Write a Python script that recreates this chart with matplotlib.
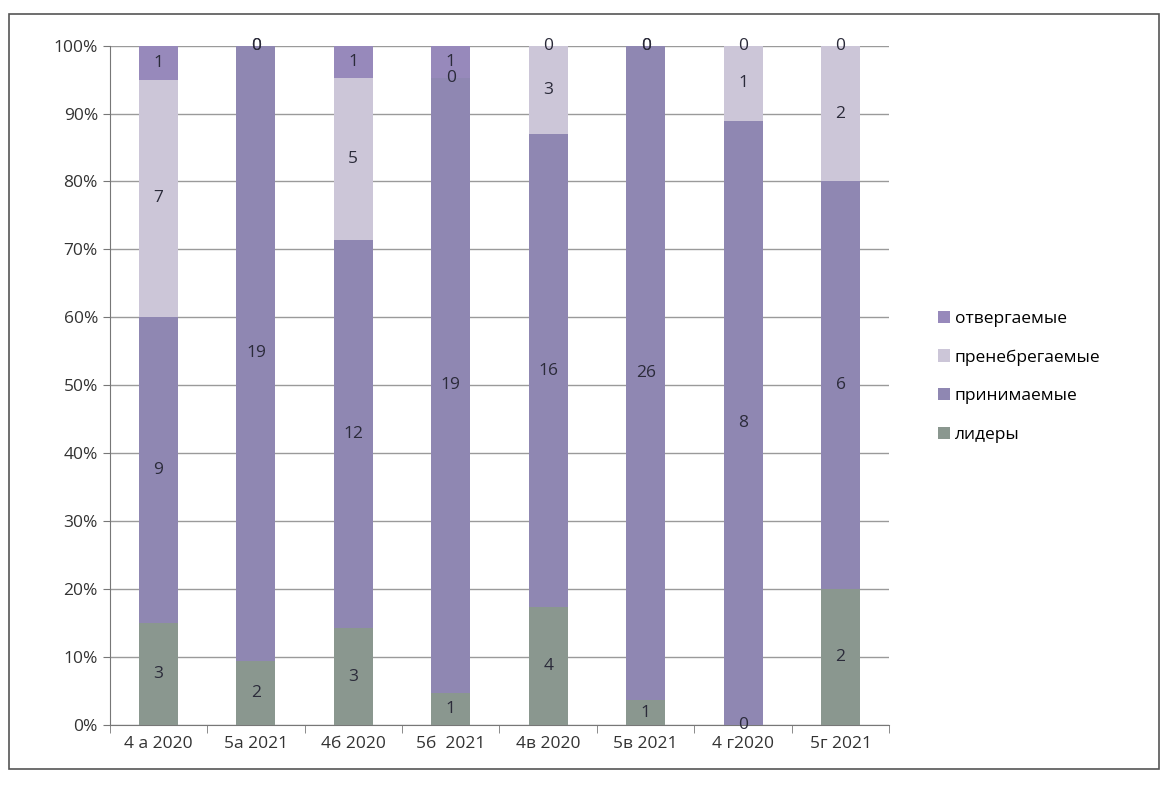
import matplotlib.pyplot as plt
import numpy as np
from matplotlib.ticker import FixedLocator, PercentFormatter

classes = ['4 а 2020', '5а 2021', '4б 2020', '5б  2021', '4в 2020', '5в 2021', '4 г2020', '5г 2021']
series_names = ['лидеры', 'принимаемые', 'пренебрегаемые', 'отвергаемые']
leaders = [3, 2, 3, 1, 4, 1, 0, 2]
accepted = [9, 19, 12, 19, 16, 26, 8, 6]
neglected = [7, 0, 5, 0, 3, 0, 1, 2]
rejected = [1, 0, 1, 1, 0, 0, 0, 0]
colors = ['#8a978f', '#8f87b2', '#ccc6d8', '#9789bb']

counts = np.array([leaders, accepted, neglected, rejected], dtype=float)
shares = counts / counts.sum(axis=0) * 100

plt.rcParams['font.family'] = ['Open Sans', 'DejaVu Sans']

fig = plt.figure(figsize=(11.67, 7.85), dpi=100)
ax = fig.add_axes([0.094, 0.076, 0.668, 0.866])

x = np.arange(len(classes))
bottom = np.zeros(len(classes))
for i, name in enumerate(series_names):
    ax.bar(x, shares[i], 0.4, bottom=bottom, color=colors[i], label=name, zorder=3)
    for j in range(len(classes)):
        yc = bottom[j] + shares[i][j] / 2
        ax.text(x[j], yc, str(int(counts[i][j])), ha='center', va='center',
                fontsize=12.5, color='#2b2b3a', zorder=4)
    bottom += shares[i]

ax.set_xlim(-0.5, len(classes) - 0.5)
ax.set_ylim(0, 100)
ax.yaxis.set_major_locator(FixedLocator(np.arange(0, 101, 10)))
ax.yaxis.set_major_formatter(PercentFormatter(decimals=0))
ax.set_xticks(x)
ax.set_xticklabels(classes, fontsize=12.5, color='#333333')
ax.xaxis.set_minor_locator(FixedLocator(np.arange(-0.5, len(classes), 1)))
ax.tick_params(axis='x', which='major', length=0, pad=8)
ax.tick_params(axis='x', which='minor', length=6, color='#777777')
ax.tick_params(axis='y', labelsize=12.5, labelcolor='#333333', color='#777777', length=5)
ax.grid(axis='y', color='#9a9a9a', linewidth=1, zorder=0)
for side in ['top', 'right']:
    ax.spines[side].set_visible(False)
for side in ['left', 'bottom']:
    ax.spines[side].set_color('#777777')

handles, labels = ax.get_legend_handles_labels()
leg = fig.legend(handles[::-1], labels[::-1], loc='center left', bbox_to_anchor=(0.79, 0.52),
                 frameon=False, fontsize=12.5, handlelength=0.7, handleheight=0.7,
                 handletextpad=0.3, labelspacing=1.3)

fig.patches.append(plt.Rectangle((0.008, 0.02), 0.985, 0.962, transform=fig.transFigure,
                                 fill=False, edgecolor='#555555', linewidth=1.2))

fig.savefig('out.png', dpi=100)
